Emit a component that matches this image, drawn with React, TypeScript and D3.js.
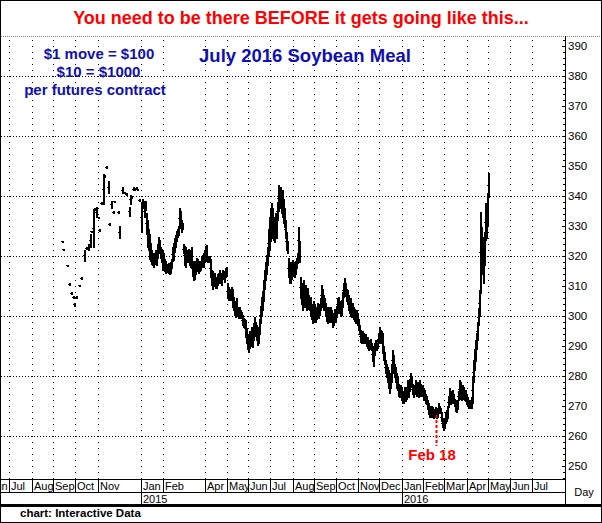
import React from "react";
import * as d3 from "d3";

// ---------- DATA ----------
// Daily high / low (one value per weekday, starting at the first weekday of each month)
const sep14Hi = [null,null,null,null,null,null,null,null,null,325,322.5,null,null,null,317,null,311,null,308,null,306.5,304.5];
const sep14Lo = [null,null,null,null,null,null,null,null,null,325,322.5,null,null,null,317,null,310.5,null,307.5,null,306,303.5];
const oct14Hi = [null,306.5,null,null,310.5,null,313,null,null,322,null,323,null,324,null,327.5,328.5,null,335.5,336,null,336.5,null];
const oct14Lo = [null,306,null,null,310,null,312.5,null,null,318.5,null,322.5,null,322,null,323,328,null,323,335.5,null,333,null];
const nov14Hi = [333,329,null,338,null,347.5,347,null,350,null,345,331,null,338.5,null,335,338.5,null,null,null];
const nov14Lo = [333,328.5,null,337.5,null,337.5,346.5,null,349.5,null,341,330.5,null,336,null,334.5,338,null,null,null];
const dec14Hi = [335,330,null,null,343,null,341.5,null,341,null,null,336.5,340.5,340,null,343,342.5,null,343,342.5,null,339,null];
const dec14Lo = [334.5,326,null,null,341,null,341,null,340.5,null,null,333.5,337.5,339.5,null,342,342,null,342.5,342,null,338.5,null];
const jan15Hi = [338,339,338.5,337,338.5,334.5,332,329,327.5,324.5,322,321,320,321,322,322,324,326.5,325.5,323,322.5,322];
const jan15Lo = [328,336,336.5,333,335.5,327.5,323,322,319,318.5,317.5,317,316.5,317.5,318,317,319.5,321.5,321,319.5,318,315.5];
const feb15Hi = [321,319,318.5,317.5,317,317.7,316.5,318,319,323,324.5,326,327,328.5,329,330,336,335,332,331];
const feb15Lo = [315.5,315,314.5,314.8,315,314.5,314,314.5,316,318.5,318.7,321.5,323,325,326.5,327,329.5,331,328,329];
const mar15Hi = [324,323.5,323,322,321,322.5,322,321,323,318.5,317,318.5,318,319.5,319,318.5,317.5,318.5,320,320.5,321,322];
const mar15Lo = [321,317,316.5,318.5,318,318.5,317,316.5,317,313.5,312,312.5,314,316,315,314.5,315,315.5,316.5,317,316.5,318.5];
const apr15Hi = [323.5,323.7,320,319.8,320,319,315.3,315,314.5,314.2,313,312,314,314.5,315.3,314.5,314,315.3,315,314.5,316,316.4];
const apr15Lo = [318.5,319,318,318.5,318,313,310.5,309,310,310.9,309.5,309.2,310.5,311,312,311,310.5,312.5,313,311.5,313,313.5];
const may15Hi = [311,309.8,309,308.5,309.8,309,306.4,305,304,306,303,302.5,303.1,302,301.5,300.3,299.5,299,298.7,296,294];
const may15Lo = [306,305.5,305.3,306,305.5,303.1,302,300.5,299.8,301.5,300,299.2,300,299.5,299.2,297,296.4,297,293,291,289];
const jun15Hi = [293,295,294,296.4,295,297.5,299.8,298,297,296.4,295,299,303,306.4,308,312,315.3,318,320.5,323.1,329,333];
const jun15Lo = [288.1,289.5,290,291.5,289.8,292,294,293.5,292,290.3,291,294,297.6,300,302,305,309,312,314,317,320,322];
const jul15Hi = [336,337.6,336,333,332,334.2,333,338,343.7,342,343,341,342,339,336,332,328,325,319.2,318,317.5,318,318.7];
const jul15Lo = [325,328,326,325.3,324.8,327,326,332,335,336,337,334.2,333,331,329.8,326,322,320.9,313,311,310.9,312.5,314];
const aug15Hi = [318,317,318.5,319,321,329.8,325,313.1,311,310,312,310.5,310.3,308,309.5,307,306,306.4,304,303,305];
const aug15Lo = [313.5,313.1,314,316,317.6,321,318,306,304,302,305,303,304,302,303.5,302.5,302,300,299,297.6,299.5];
const sep15Hi = [304,303,302,304.2,303,304,306,310.3,309,307,306,304.2,303,302,303,302,303.1,302,300,301,302.5,301.5];
const sep15Lo = [298.5,298.1,299,300,299.5,300.5,302,304,303,302,302.5,300,298.5,297.6,299,298,299,298,296.4,297,298.5,298];
const oct15Hi = [303,306,306.4,305,304,305,308,311,312.6,311,309,308.7,307,305.5,306,304,304.2,303,302.5,301,302,300.9];
const oct15Lo = [299.8,301,302,301,300,300.5,303,306.4,307,306.5,305,304,302,301,300,299.8,300,299,298.5,297.6,298,297];
const nov15Hi = [299,297,295.3,294,295,294.5,293.5,294,293,293.1,292,291.5,292.5,291,290,289,291,292,290.5,292,294];
const nov15Lo = [295.3,294,291.5,291,292,290.9,291,291.5,290,289.5,288.7,289,289.5,288.7,285,283.3,287,289,288.7,289.5,290.9];
const dec15Hi = [296.4,295.3,295,294.2,290,288,285.3,284,283.1,282,280,281,284,288.7,287,284,283.1,281,280,277.5,276,277,276.4];
const dec15Lo = [292,291,290.9,288,285.3,284,281,279.8,278,276,274.2,276,278,282,281,279.8,278,276,275.3,273.5,273.1,273.5,272];
const jan16Hi = [275,274,276.4,275.5,276,278.6,278,279,280.9,280,277.5,276.5,277,278.6,277.5,278,277,278.6,277.5,276,277];
const jan16Lo = [271,270.9,272,271.5,272.5,274,273.1,275,277,276.4,274,273.1,274,274.5,273.5,274,273.1,275,273.5,273.5,274];
const feb16Hi = [276,275.3,274,273.5,272,270.9,270,269.5,270,269.8,268.5,269,269.8,268.5,269,270.9,270,269.5,268,266,265];
const feb16Lo = [272.5,272,271,270.9,269,267.5,266.4,267,266.5,266.5,265.9,266.5,266.8,266,266.5,268,267.6,267.6,265,263,262];
const mar16Hi = [266,268,268.7,270,273,275.9,275,274,275.3,274,272.5,272,271,272,275,278.6,278,276,277,276.5,275,275.5,274];
const mar16Lo = [262.5,264.2,265,266,269.8,271,270.5,270.9,272,271,270,268.5,268.1,269,272,273,272.5,272,273,272.5,272,271.5,270.5];
const apr16Hi = [273.1,272,271.5,272,273,279.8,285,289,292,294.2,298,302.6,308.7,334.8,329.8,326.4,325,328,337.6,336,340.9];
const apr16Lo = [270,269.5,269.2,269.5,269.2,271,278,282,285,289,292,297,300,307.6,318.7,314,310.9,317,325.3,326,330];
const may16Hi = [347.8];
const may16Lo = [339.8];

const seriesStarts = ["2014-09-01","2014-10-01","2014-11-03","2014-12-01","2015-01-01","2015-02-02","2015-03-02","2015-04-01","2015-05-01","2015-06-01","2015-07-01","2015-08-03","2015-09-01","2015-10-01","2015-11-02","2015-12-01","2016-01-01","2016-02-01","2016-03-01","2016-04-01","2016-05-02"];
const seriesHi = [sep14Hi,oct14Hi,nov14Hi,dec14Hi,jan15Hi,feb15Hi,mar15Hi,apr15Hi,may15Hi,jun15Hi,jul15Hi,aug15Hi,sep15Hi,oct15Hi,nov15Hi,dec15Hi,jan16Hi,feb16Hi,mar16Hi,apr16Hi,may16Hi];
const seriesLo = [sep14Lo,oct14Lo,nov14Lo,dec14Lo,jan15Lo,feb15Lo,mar15Lo,apr15Lo,may15Lo,jun15Lo,jul15Lo,aug15Lo,sep15Lo,oct15Lo,nov15Lo,dec15Lo,jan16Lo,feb16Lo,mar16Lo,apr16Lo,may16Lo];

const monthStarts = ["2014-06-02","2014-07-01","2014-08-01","2014-09-01","2014-10-01","2014-11-03","2015-01-01","2015-02-02","2015-04-01","2015-05-01","2015-06-01","2015-07-01","2015-08-03","2015-09-01","2015-10-01","2015-11-02","2015-12-01","2016-01-01","2016-02-01","2016-03-01","2016-04-01","2016-05-02","2016-06-01","2016-07-01"];
const monthNames = ["Jun","Jul","Aug","Sep","Oct","Nov","Jan","Feb","Apr","May","Jun","Jul","Aug","Sep","Oct","Nov","Dec","Jan","Feb","Mar","Apr","May","Jun","Jul"];
const yearStarts = ["2015-01-01","2016-01-01"];
const yearNames = ["2015","2016"];
const yLabels = [250,260,270,280,290,300,310,320,330,340,350,360,370,380,390];
const gridValues = [260,280,300,320,340,360,380];
const markerDate = "2016-02-18";
const markerLabel = "Feb 18";
const titleText = "You need to be there BEFORE it gets going like this...";
const chartTitle = "July 2016 Soybean Meal";
const noteLines = ["$1 move = $100","$10 = $1000","per futures contract"];
const creditText = "chart: Interactive Data";

// ---------- HELPERS ----------
const BASE = Date.UTC(2014, 5, 2); // Monday
function weekdayIndex(s: string): number {
  const [y, m, d] = s.split("-").map(Number);
  const days = Math.round((Date.UTC(y, m - 1, d) - BASE) / 86400000);
  return Math.floor(days / 7) * 5 + Math.min(days % 7, 5);
}

const FONT = "Arial, 'Liberation Sans', sans-serif";
const PL = 1, PR = 565, PT = 37, PB = 479;

export default function App() {
  const x = d3.scaleLinear().domain([12.5, 576.5]).range([PL, PR]);
  const y = d3.scaleLinear().domain([250, 390]).range([466, 46]);

  const bars: { x: number; hi: number; lo: number }[] = [];
  seriesStarts.forEach((s, i) => {
    const start = weekdayIndex(s);
    const hs = seriesHi[i], ls = seriesLo[i];
    hs.forEach((h, k) => {
      const l = ls[k];
      if (h == null || l == null) return;
      bars.push({ x: x(start + k), hi: h, lo: l });
    });
  });

  const monthX = monthStarts.map((s) => x(weekdayIndex(s)));
  const yearX = yearStarts.map((s) => x(weekdayIndex(s)));
  const minorTicks = d3.range(246, 393, 2);
  const markerX = x(weekdayIndex(markerDate));

  return (
    <svg width={602} height={523} style={{ position: "absolute", left: 0, top: 0, background: "#fff" }}
      fontFamily={FONT}>
      <defs>
        <clipPath id="plotClip"><rect x={PL} y={PT} width={PR - PL} height={PB - PT} /></clipPath>
        <clipPath id="axisClip"><rect x={PL} y={480} width={PR - PL} height={25} /></clipPath>
      </defs>
      <rect x={0} y={0} width={602} height={523} fill="#fff" />

      {/* title */}
      <text x={301} y={24} textAnchor="middle" fill="#ff0000" fontWeight="bold" fontSize={18}>{titleText}</text>

      {/* plot top border */}
      <line x1={1} x2={601} y1={36.5} y2={36.5} stroke="#888" strokeDasharray="1 1" />

      {/* grid */}
      <g>
        {gridValues.map((v) => (
          <line key={"h" + v} x1={PL} x2={PR} y1={Math.round(y(v)) + 0.5} y2={Math.round(y(v)) + 0.5}
            stroke="#000" strokeDasharray="1 2" />
        ))}
        {monthX.filter((mx) => mx > PL).map((mx, i) => (
          <line key={"v" + i} x1={mx} x2={mx} y1={y(392)} y2={PB} stroke="#000" strokeDasharray="1 5" />
        ))}
      </g>

      {/* bars */}
      <g clipPath="url(#plotClip)" fill="#000">
        {bars.map((b, i) => {
          const yt = Math.round(y(b.hi));
          const yb = Math.round(y(b.lo));
          const ym = Math.round(y((b.hi + b.lo) / 2));
          return (
            <g key={i}>
              <rect x={b.x - 0.5} y={yt} width={2} height={Math.max(2, yb - yt + 1)} />
              <rect x={b.x - 1.5} y={ym} width={3} height={1} />
            </g>
          );
        })}
      </g>

      {/* notes */}
      {noteLines.map((t, i) => (
        <text key={t} x={[99, 98.5, 95][i]} y={58.5 + i * 18} textAnchor="middle" fill="#1010b0"
          fontWeight="bold" fontSize={15}>{t}</text>
      ))}
      <text x={305} y={62} textAnchor="middle" fill="#1010b0" fontWeight="bold" fontSize={18.5}>{chartTitle}</text>

      {/* Feb 18 marker */}
      <line x1={markerX} x2={markerX} y1={415} y2={446} stroke="#ff0000" strokeWidth={2} strokeDasharray="3 2" />
      <text x={432} y={459.5} textAnchor="middle" fill="#ff0000" fontWeight="bold" fontSize={15}>{markerLabel}</text>

      {/* y axis */}
      <line x1={565.5} x2={565.5} y1={36} y2={505} stroke="#000" />
      {minorTicks.map((v) => (
        <line key={"t" + v} x1={v % 10 === 0 ? 562 : 563} x2={565} y1={Math.round(y(v)) + 0.5} y2={Math.round(y(v)) + 0.5} stroke="#000" />
      ))}
      {yLabels.map((v) => (
        <text key={"l" + v} x={568} y={y(v) + 4} fontSize={11.5} fill="#000">{v}</text>
      ))}

      {/* x axis */}
      <line x1={PL} x2={PR} y1={479.5} y2={479.5} stroke="#000" />
      <line x1={PL} x2={PR} y1={492.5} y2={492.5} stroke="#000" />
      <g clipPath="url(#axisClip)">
        {monthX.map((mx, i) => (
          <g key={"m" + i}>
            <line x1={mx} x2={mx} y1={480} y2={492} stroke="#000" />
            <text x={mx + 1.5} y={490} fontSize={11} fill="#000">{monthNames[i]}</text>
          </g>
        ))}
        {yearX.map((yx, i) => (
          <g key={"y" + i}>
            <line x1={yx} x2={yx} y1={492} y2={504} stroke="#000" />
            <text x={yx + 1.5} y={503} fontSize={11} fill="#000">{yearNames[i]}</text>
          </g>
        ))}
      </g>
      <text x={584} y={496} textAnchor="middle" fontSize={11} fill="#000">Day</text>
      <rect x={0} y={504} width={602} height={3} fill="#000" />

      {/* credit */}
      <text x={20} y={517} fontSize={11.5} fontWeight="bold" fill="#000">{creditText}</text>

      {/* frame */}
      <rect x={0.5} y={0.5} width={601} height={522} fill="none" stroke="#000" />
    </svg>
  );
}
